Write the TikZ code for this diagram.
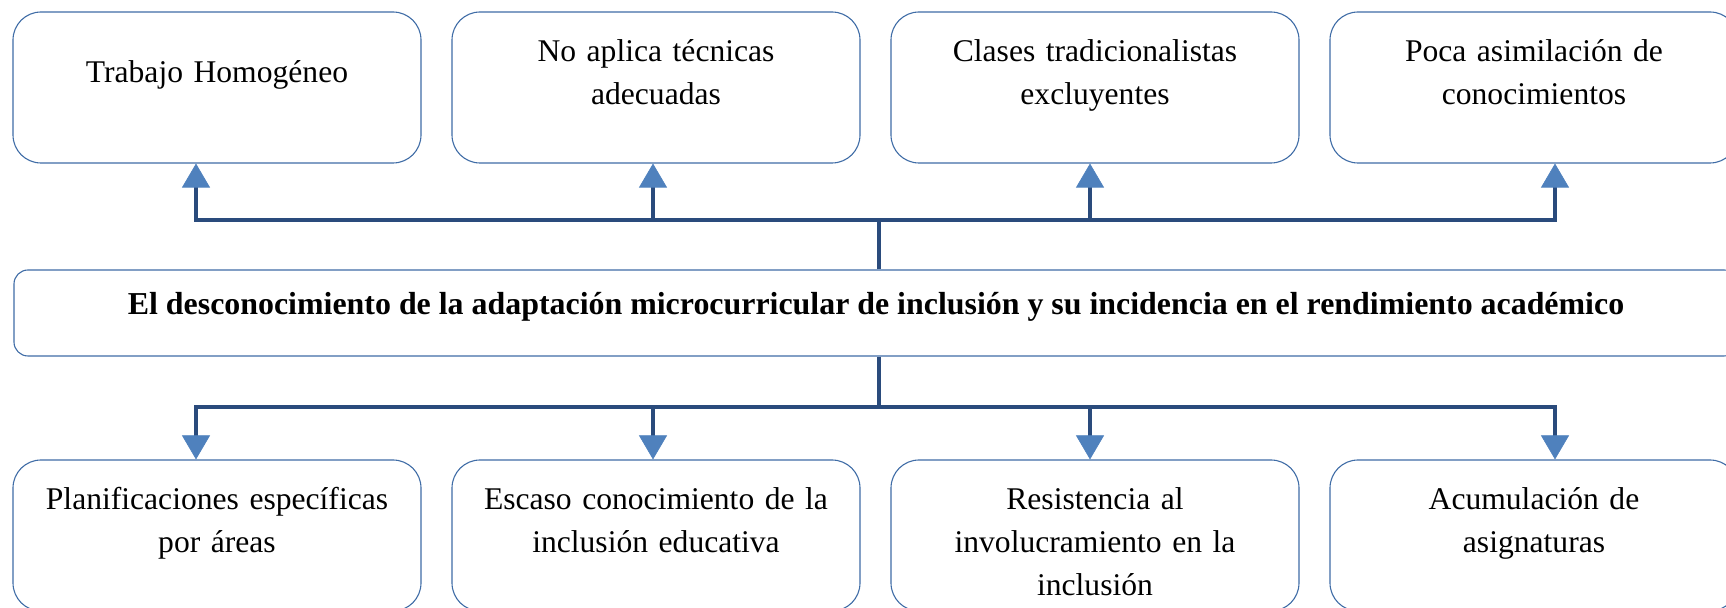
\documentclass[tikz,border=0pt]{standalone}
\usepackage{fontspec}
\setmainfont{Liberation Serif}
\usetikzlibrary{arrows.meta}
\definecolor{boxblue}{HTML}{3F6CA6}
\definecolor{linkblue}{HTML}{2A4B7C}
\definecolor{tipblue}{HTML}{4F81BD}

\begin{document}
\begin{tikzpicture}[x=0.5pt,y=-0.5pt,
  caja/.style={draw=boxblue,line width=0.55pt,rounded corners=14pt,
    minimum width=204pt,text width=195pt,align=center,inner sep=0pt,
    text height=25pt,text depth=50.5pt,font=\fontsize{15.8}{21.5}\selectfont},
  central/.style={draw=boxblue,line width=0.55pt,rounded corners=7pt,
    minimum width=862pt,inner sep=0pt,text height=22.5pt,text depth=20.5pt,
    font=\fontsize{15.95}{21.5}\selectfont\bfseries},
  enlace/.style={draw=linkblue,line width=2pt},
  flecha/.style={enlace,-{Triangle[width=14pt,length=12pt,line width=0.3pt,color=tipblue]}}]
\useasboundingbox (0,0) rectangle (1726,608);
%\draw[step=50,lightgray,very thin] (0,0) grid (1726,608);

% efectos
\node[caja,text height=35.5pt,text depth=40pt] (t1) at (217,87.5) {Trabajo Homogéneo};
\node[caja] (t2) at (656,87.5) {No aplica técnicas\\adecuadas};
\node[caja] (t3) at (1095,87.5) {Clases tradicionalistas\\excluyentes};
\node[caja] (t4) at (1534,87.5) {Poca asimilación de\\conocimientos};

% problema
\node[central] (c) at (876,313) {El desconocimiento de la adaptación microcurricular de inclusión y su incidencia en el rendimiento académico};

% causas
\node[caja] (b1) at (217,535.5) {Planificaciones específicas\\por áreas};
\node[caja] (b2) at (656,535.5) {Escaso conocimiento de la\\inclusión educativa};
\node[caja] (b3) at (1095,535.5) {Resistencia al\\involucramiento en la\\inclusión};
\node[caja] (b4) at (1534,535.5) {Acumulación de\\asignaturas};

\coordinate (jt) at (879,220);
\coordinate (jb) at (879,407);

\draw[enlace] (c.north -| jt) -- (jt);
\draw[flecha] (jt) -| ([xshift=-10.5pt]t1.south);
\draw[flecha] (jt) -| ([xshift=-1.5pt]t2.south);
\draw[flecha] (jt) -| ([xshift=-2.5pt]t3.south);
\draw[flecha] (jt) -| ([xshift=10.5pt]t4.south);

\draw[enlace] (c.south -| jb) -- (jb);
\draw[flecha] (jb) -| ([xshift=-10.5pt]b1.north);
\draw[flecha] (jb) -| ([xshift=-1.5pt]b2.north);
\draw[flecha] (jb) -| ([xshift=-2.5pt]b3.north);
\draw[flecha] (jb) -| ([xshift=10.5pt]b4.north);

\end{tikzpicture}
\end{document}
